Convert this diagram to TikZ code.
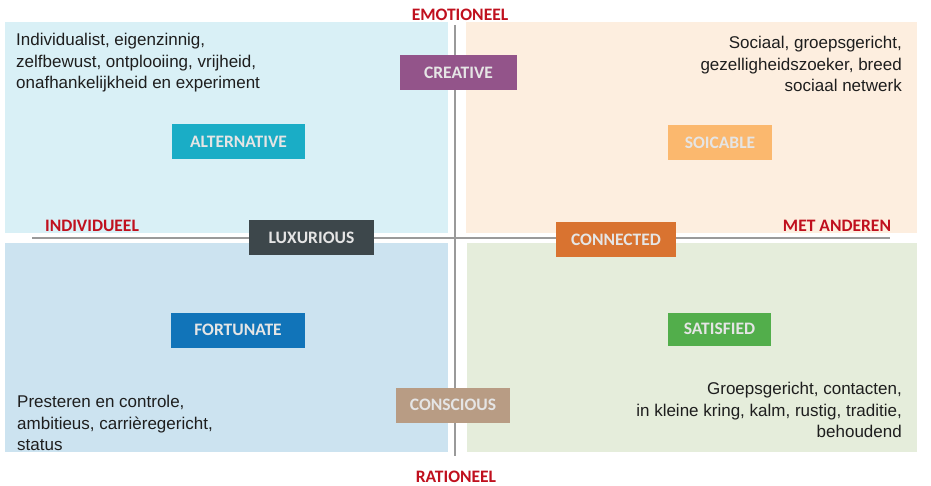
\documentclass[tikz,border=0pt]{standalone}
\usepackage{fontspec}
\setmainfont{Liberation Sans}
\newfontfamily\labelfont{Carlito}
\begin{document}
\definecolor{qTL}{HTML}{D9F0F6}
\definecolor{qTR}{HTML}{FDEEDF}
\definecolor{qBL}{HTML}{CCE3F0}
\definecolor{qBR}{HTML}{E5EDDB}
\definecolor{axisred}{HTML}{C0101E}
\definecolor{axisgray}{HTML}{9A9A9A}
\definecolor{desctext}{HTML}{1E1E1E}
\definecolor{cCreative}{HTML}{93548A}
\definecolor{cAlternative}{HTML}{1AADC6}
\definecolor{cSociable}{HTML}{FBB86E}
\definecolor{cLuxurious}{HTML}{3D474B}
\definecolor{cConnected}{HTML}{D97330}
\definecolor{cFortunate}{HTML}{1174B9}
\definecolor{cSatisfied}{HTML}{52AE4B}
\definecolor{cConscious}{HTML}{B89C84}
\begin{tikzpicture}[x=1pt,y=-1pt,
  typebox/.style={minimum width=#1, minimum height=35pt, inner sep=0pt,
    text=white!90!black, font=\labelfont\bfseries\fontsize{17.5}{19}\selectfont},
  typebox/.default=120pt,
  axislabel/.style={text=axisred, inner sep=0pt, font=\labelfont\bfseries\fontsize{17.5}{19}\selectfont},
  desc/.style={inner sep=0pt, text=desctext, font=\fontsize{17}{21.5}\selectfont},
  axis/.style={draw=axisgray, line width=1.3pt}]
\useasboundingbox (0,0) rectangle (931,486);
\fill[white] (0,0) rectangle (931,486);

% quadrant backgrounds
\fill[qTL] (5,22) rectangle (448,233);
\fill[qTR] (466,22) rectangle (917,233);
\fill[qBL] (5,243) rectangle (448,452);
\fill[qBR] (467,243) rectangle (917,452);

% axes
\coordinate (vtop) at (455,25);
\coordinate (vbot) at (455,456);
\coordinate (hleft) at (32,238);
\coordinate (hright) at (890,238);
\draw[axis] (vtop) -- (vbot);
\draw[axis] (hleft) -- (hright);

% axis labels
\node[axislabel] (emo) at (460,15) {EMOTIONEEL};
\node[axislabel] (rat) at (456,476.5) {RATIONEEL};
\node[axislabel] (ind) at (92,226) {INDIVIDUEEL};
\node[axislabel] (met) at (837,226) {MET ANDEREN};

% type boxes
\node[typebox=117pt, fill=cCreative] (creative) at (458.5,72.5) {CREATIVE};
\node[typebox=133pt, fill=cAlternative] (alternative) at (238.5,141.5) {ALTERNATIVE};
\node[typebox=104pt, fill=cSociable] (soicable) at (720,143) {SOICABLE};
\node[typebox=125pt, fill=cLuxurious] (luxurious) at (311.5,238) {LUXURIOUS};
\node[typebox=120pt, fill=cConnected] (connected) at (616,239.5) {CONNECTED};
\node[typebox=134pt, fill=cFortunate] (fortunate) at (238,330) {FORTUNATE};
\node[typebox=103pt, fill=cSatisfied, minimum height=33pt] (satisfied) at (719.5,329) {SATISFIED};
\node[typebox=114pt, fill=cConscious] (conscious) at (453,405) {CONSCIOUS};

% descriptions
\node[desc, anchor=north west, align=left] (dTL) at (16,33)
  {Individualist, eigenzinnig,\\zelfbewust, ontplooiing, vrijheid,\\onafhankelijkheid en experiment};
\node[desc, anchor=north east, align=right] (dTR) at (902,36)
  {Sociaal, groepsgericht,\\gezelligheidszoeker, breed\\sociaal netwerk};
\node[desc, anchor=north west, align=left] (dBL) at (17,395)
  {Presteren en controle,\\ambitieus, carrièregericht,\\status};
\node[desc, anchor=north east, align=right] (dBR) at (902,382)
  {Groepsgericht, contacten,\\in kleine kring, kalm, rustig, traditie,\\behoudend};
\end{tikzpicture}
\end{document}
